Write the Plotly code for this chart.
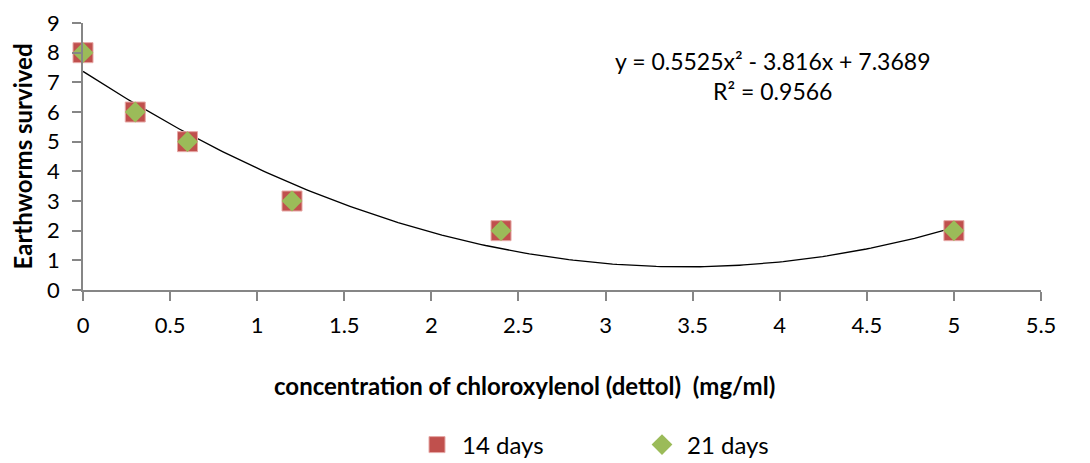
import numpy as np
import plotly.graph_objects as go

conc = [0, 0.3, 0.6, 1.2, 2.4, 5]
days14 = [8, 6, 5, 3, 2, 2]
days21 = [8, 6, 5, 3, 2, 2]
coef = [0.5525, -3.816, 7.3689]  # trendline y = a x^2 + b x + c
r2 = 0.9566
x_ticks = [0, 0.5, 1, 1.5, 2, 2.5, 3, 3.5, 4, 4.5, 5, 5.5]
y_ticks = list(range(0, 10))

FONT = "Lato, 'Open Sans', sans-serif"
L, R, T, B = 83, 1041, 23, 290
W = R - L
H = B - T

xs = np.linspace(min(conc), max(conc), 200)
ys = np.polyval(coef, xs)

fig = go.Figure()
fig.add_trace(go.Scatter(x=xs, y=ys, mode="lines", line=dict(color="black", width=1.3),
                         showlegend=False, hoverinfo="skip", cliponaxis=False))
fig.add_trace(go.Scatter(x=conc, y=days14, mode="markers", name="14 days", cliponaxis=False,
                         marker=dict(symbol="square", size=20, color="#C0504D",
                                     line=dict(color="#E6A8A6", width=1))))
fig.add_trace(go.Scatter(x=conc, y=days21, mode="markers", name="21 days", cliponaxis=False,
                         marker=dict(symbol="diamond", size=16, color="#9BBB59", line=dict(width=0))))

fig.update_layout(
    width=1090, height=463,
    margin=dict(l=L, r=1090 - R, t=T, b=463 - B, autoexpand=False),
    paper_bgcolor="white", plot_bgcolor="white",
    font=dict(family=FONT, size=22, color="black"),
    xaxis=dict(range=[0, 5.5], tickvals=x_ticks, ticktext=[f"{v:g}" for v in x_ticks],
               showgrid=False, zeroline=False, showline=True, linecolor="#868686", linewidth=1.5,
               ticks="outside", ticklen=9, tickcolor="#868686", tickwidth=1.5,
               ticklabelstandoff=6, automargin=False,
               tickfont=dict(size=22, family=FONT)),
    yaxis=dict(range=[0, 9], tickvals=y_ticks, showgrid=False, zeroline=False,
               showline=True, linecolor="#868686", linewidth=1.5,
               ticks="outside", ticklen=9, tickcolor="#868686", tickwidth=1.5,
               ticklabelstandoff=8, automargin=False,
               tickfont=dict(size=22, family=FONT)),
    legend=dict(orientation="h", x=(412 - L) / W, xanchor="left", y=(B - 445) / H, yanchor="middle",
                font=dict(size=24, family=FONT), itemwidth=40, tracegroupgap=0,
                entrywidthmode="pixels", entrywidth=170),
    showlegend=True,
)

fig.add_annotation(xref="paper", yref="paper", x=(22 - L) / W, y=0.5,
                   text="<b>Earthworms survived</b>", showarrow=False, textangle=-90,
                   font=dict(size=24, family=FONT), xanchor="center", yanchor="middle")
fig.add_annotation(xref="paper", yref="paper", x=(524 - L) / W, y=(B - 385) / H,
                   text="<b>concentration of chloroxylenol (dettol)  (mg/ml)</b>", showarrow=False,
                   font=dict(size=24, family=FONT), xanchor="center", yanchor="middle")
fig.add_annotation(xref="paper", yref="paper", x=(772 - L) / W, y=(B - 76) / H,
                   text=f"y = {coef[0]}x\u00b2 - {abs(coef[1])}x + {coef[2]}<br>R\u00b2 = {r2}",
                   showarrow=False, font=dict(size=23, family=FONT), xanchor="center", yanchor="middle",
                   align="center")

fig.write_html("out.html")
